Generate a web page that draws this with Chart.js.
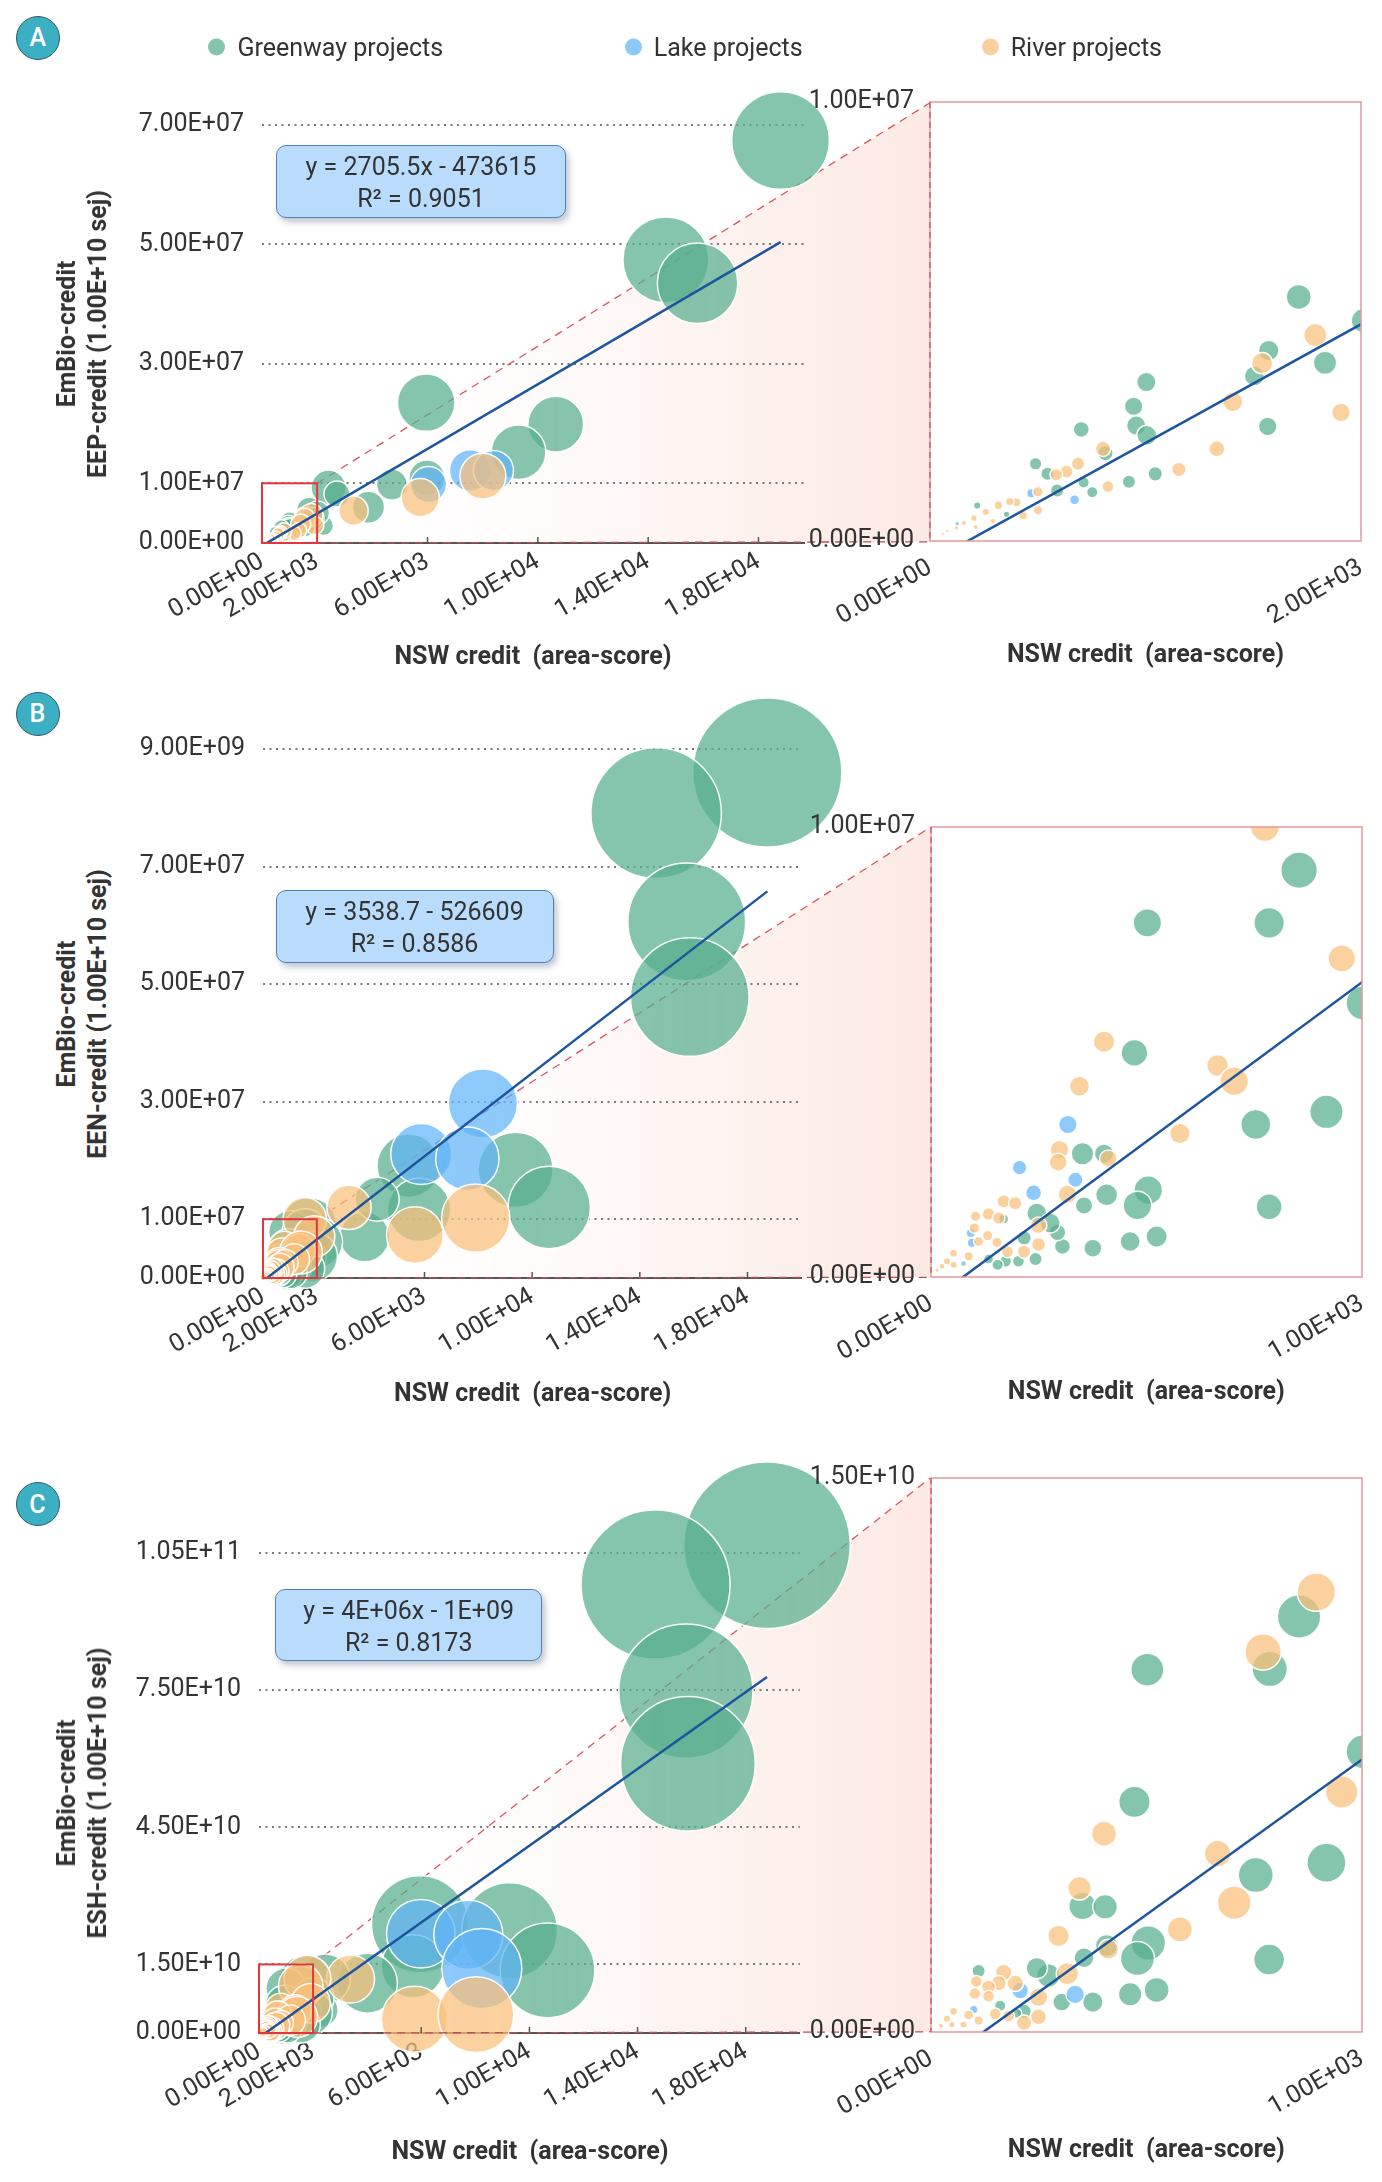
<!DOCTYPE html>
<html>
<head>
<meta charset="utf-8">
<title>EmBio-credit vs NSW credit</title>
<script src="https://cdn.jsdelivr.net/npm/chart.js@4.4.1/dist/chart.umd.min.js"></script>
<style>
  html, body { margin: 0; padding: 0; background: #fff; }
  #page { position: relative; width: 1382px; height: 2182px; overflow: hidden;
          font-family: Roboto, "Noto Sans", sans-serif; color: #333; }
  canvas { position: absolute; }
  canvas.main { z-index: 1; }
  canvas.inset { z-index: 2; }
  .tag { position: absolute; width: 44px; height: 44px; border-radius: 50%; box-sizing: border-box;
         background: #3cafc3; border: 1.5px solid #2d5f6b; color: #fff; font-size: 25px; font-weight: 500;
         display: flex; align-items: center; justify-content: center; transform: translate(-50%, -50%); z-index: 3; }
  .legend { position: absolute; top: 46.7px; transform: translateY(-50%); font-size: 25px; white-space: nowrap;
            display: flex; align-items: center; z-index: 3; color: #333; }
  .legend i { display: inline-block; width: 17px; height: 17px; border-radius: 50%; margin-right: 12px; }
  .eq { position: absolute; z-index: 3; box-sizing: border-box; background: #b9dcfc; border: 1.5px solid #4f7fbd;
        border-radius: 10px; box-shadow: 3px 4px 6px rgba(40, 60, 90, 0.3); font-size: 25px; line-height: 32px;
        text-align: center; padding-top: 5px; color: #333; }
  .ytitle { position: absolute; z-index: 3; font-weight: bold; font-size: 25px; line-height: 31px; text-align: center;
            white-space: nowrap; transform: translate(-50%, -50%) rotate(-90deg); color: #333; }
  .xtitle { position: absolute; z-index: 3; font-weight: bold; font-size: 25px; white-space: pre;
            transform: translate(-50%, -50%); color: #333; }
</style>
</head>
<body>
<div id="page"></div>
<script>
// ---- data ----
const seriesNames = ["Greenway projects", "Lake projects", "River projects"];

// each point: [NSW credit, EmBio-credit, bubble size]
// Panel A (EEP-credit)
const greenA = [
  [18800, 67.4e6, 67.7], [14645, 47.4e6, 52.6], [15790, 43.5e6, 46.0], [5953, 23.5e6, 23.4],
  [10650, 19.9e6, 22.0], [9300, 15.2e6, 21.2], [5978, 10.9e6, 9.2], [4710, 9.8e6, 6.8],
  [3862, 6.0e6, 7.3], [2413, 9.3e6, 8.7], [2717, 8.2e6, 4.8], [2232, 2.9e6, 2.8],
  [1711, 5.56e6, 4.44], [2010, 5.02e6, 4.1], [1572, 4.34e6, 3.0], [1505, 3.76e6, 2.84],
  [1833, 4.06e6, 3.83], [1567, 2.61e6, 2.46], [1045, 1.53e6, 1.52], [923, 1.35e6, 1.28],
  [1004, 3.62e6, 2.68], [945, 3.07e6, 2.46], [957, 2.63e6, 2.68], [1006, 2.41e6, 2.84],
  [814, 2.0e6, 1.69], [702, 2.54e6, 1.82], [545, 1.53e6, 1.28], [490, 1.76e6, 1.13],
  [713, 1.33e6, 0.92], [753, 1.11e6, 0.92], [590, 1.15e6, 1.28], [219, 0.81e6, 0.39],
  [355, 0.61e6, 0.31]
];
const lakeA = [
  [7546, 12.15e6, 12.2], [8391, 12.15e6, 11.4], [6036, 9.8e6, 9.2],
  [671, 0.94e6, 0.71], [470, 1.09e6, 0.63], [126, 0.39e6, 0.18]
];
const riverA = [
  [8007, 11.2e6, 15.0], [5736, 7.6e6, 10.3], [3319, 5.4e6, 6.1], [1788, 4.69e6, 3.83],
  [1541, 4.05e6, 3.2], [1907, 2.93e6, 2.46], [1405, 3.17e6, 2.84], [1331, 2.10e6, 1.82],
  [1155, 1.63e6, 1.52], [826, 1.24e6, 1.02], [803, 2.10e6, 1.69], [687, 1.76e6, 1.28],
  [633, 1.58e6, 1.28], [586, 1.51e6, 1.13], [501, 1.12e6, 0.8], [501, 0.70e6, 0.63],
  [432, 0.58e6, 0.53], [401, 0.88e6, 0.63], [370, 0.90e6, 0.53], [317, 0.81e6, 0.53],
  [259, 0.66e6, 0.39], [203, 0.52e6, 0.31], [293, 0.45e6, 0.26], [212, 0.32e6, 0.21],
  [157, 0.41e6, 0.21], [123, 0.30e6, 0.15], [80, 0.23e6, 0.11], [62, 0.16e6, 0.08]
];

// Panel B (EEN-credit)
const greenB = [
  [18737, 86.0e6, 98.7], [14607, 79.1e6, 75.6], [15744, 60.6e6, 61.7], [15856, 47.8e6, 62.5],
  [5411, 19.1e6, 17.8], [9385, 18.4e6, 25.0], [10633, 12.0e6, 30.2], [5800, 11.6e6, 17.8],
  [3774, 7.0e6, 11.1], [4241, 13.4e6, 8.6],
  [1708, 9.04e6, 13.4], [1004, 7.87e6, 8.07], [1569, 7.87e6, 9.36], [2005, 6.09e6, 11.6],
  [944, 4.98e6, 7.08], [1507, 3.39e6, 9.0], [1835, 3.67e6, 11.2], [703, 2.74e6, 5.1],
  [803, 2.74e6, 3.76], [815, 1.83e6, 4.84], [710, 1.59e6, 3.03], [1008, 1.93e6, 8.18],
  [958, 1.59e6, 8.18], [1569, 1.56e6, 6.76], [924, 0.79e6, 4.0], [1047, 0.90e6, 4.58],
  [751, 0.64e6, 3.24], [610, 0.68e6, 2.56], [587, 0.99e6, 2.76], [491, 1.42e6, 4.0],
  [553, 1.20e6, 4.0], [432, 0.87e6, 2.13], [485, 0.40e6, 1.8], [406, 0.35e6, 1.44],
  [346, 0.35e6, 1.44], [309, 0.27e6, 1.3], [337, 1.29e6, 1.0], [267, 0.40e6, 1.0]
];
const lakeB = [
  [8170, 29.7e6, 21.2], [5878, 21.1e6, 16.5], [7593, 20.3e6, 17.8], [635, 3.39e6, 3.46],
  [411, 2.43e6, 2.13], [670, 2.16e6, 2.37], [476, 1.87e6, 2.56], [185, 0.98e6, 0.88],
  [190, 0.76e6, 0.88], [151, 0.30e6, 0.36]
];
const riverB = [
  [7904, 10.2e6, 20.7], [5644, 7.3e6, 14.3], [3196, 12.0e6, 8.7], [1550, 10.0e6, 8.4],
  [1906, 7.08e6, 7.5], [803, 5.23e6, 4.58], [689, 4.24e6, 4.0], [1330, 4.70e6, 4.84],
  [1407, 4.35e6, 8.18], [1155, 3.19e6, 4.24], [596, 2.83e6, 3.46], [590, 2.55e6, 3.24],
  [823, 2.63e6, 3.03], [633, 1.84e6, 3.46], [499, 1.15e6, 2.76], [499, 0.72e6, 1.96],
  [432, 0.56e6, 1.8], [355, 0.56e6, 1.44], [337, 1.68e6, 1.8], [391, 1.64e6, 1.8],
  [267, 1.40e6, 1.59], [314, 1.31e6, 1.59], [207, 1.35e6, 1.12], [201, 1.09e6, 1.12],
  [263, 0.92e6, 1.12], [306, 0.77e6, 1.12], [221, 0.79e6, 1.0], [175, 0.46e6, 0.88],
  [105, 0.53e6, 0.64], [74, 0.35e6, 0.55], [105, 0.27e6, 0.55], [51, 0.24e6, 0.36],
  [28, 0.15e6, 0.21]
];

// Panel C (ESH-credit)
const greenC = [
  [18787, 106.7e9, 186.5], [14665, 98.1e9, 149.2], [15786, 74.8e9, 121], [15863, 58.9e9, 121.7],
  [5952, 23.8e9, 63], [9268, 22.4e9, 61.4], [10669, 13.7e9, 60.1], [5690, 14.6e9, 26.8],
  [4008, 10.9e9, 24.2], [2451, 11.8e9, 16.8], [2296, 5.0e9, 7.8],
  [1708, 11.25e9, 18.8], [1572, 9.83e9, 12.5], [1004, 9.81e9, 10.9], [2005, 7.59e9, 11.6],
  [944, 6.23e9, 9.86], [1507, 4.25e9, 12.25], [1835, 4.58e9, 15.2], [703, 3.41e9, 7.5],
  [808, 3.39e9, 6.05], [1008, 2.41e9, 12.0], [958, 1.99e9, 11.6], [1569, 1.96e9, 9.6],
  [815, 2.34e9, 5.0], [710, 2.01e9, 4.0], [924, 1.02e9, 5.5], [1047, 1.14e9, 6.25],
  [751, 0.81e9, 4.24], [545, 1.53e9, 5.5], [491, 1.73e9, 4.58], [607, 0.81e9, 3.24],
  [432, 0.56e9, 2.13], [221, 1.65e9, 1.8], [321, 0.71e9, 1.3], [398, 0.51e9, 1.0]
];
const lakeC = [
  [5985, 21.7e9, 31.6], [7741, 21.5e9, 32], [8240, 14.1e9, 43],
  [669, 1.02e9, 3.46], [414, 1.12e9, 2.76], [198, 0.61e9, 0.74]
];
const riverC = [
  [5749, 3.0e9, 29.3], [8022, 4.0e9, 38.6], [3386, 11.8e9, 15.5], [1788, 11.91e9, 14.7],
  [1541, 10.29e9, 13.25], [1906, 6.50e9, 10.5], [803, 5.37e9, 6.25], [1330, 4.83e9, 7.08],
  [1407, 3.50e9, 11.3], [689, 3.89e9, 5.5], [1155, 2.78e9, 6.25], [592, 2.60e9, 4.67],
  [823, 2.24e9, 4.0], [633, 1.58e9, 5.0], [499, 0.94e9, 3.46], [499, 0.41e9, 2.56],
  [432, 0.25e9, 2.37], [391, 1.32e9, 2.76], [337, 1.61e9, 2.76], [314, 1.32e9, 2.37],
  [267, 1.22e9, 1.96], [210, 1.37e9, 1.44], [204, 1.04e9, 1.44], [267, 0.97e9, 1.44],
  [298, 0.49e9, 1.44], [360, 0.43e9, 1.44], [175, 0.46e9, 1.0], [221, 0.31e9, 0.88],
  [105, 0.56e9, 0.64], [74, 0.36e9, 0.55], [97, 0.20e9, 0.44], [46, 0.17e9, 0.29],
  [151, 0.20e9, 0.55]
];

// trend lines [slope, intercept] and their labels
const fitA = [2705.5, -473615];
const fitB = [3538.7, -526609];
const fitC = [4.2e6, -1.02e9];
const eqA = ["y = 2705.5x - 473615", "R² = 0.9051"];
const eqB = ["y = 3538.7 - 526609", "R² = 0.8586"];
const eqC = ["y = 4E+06x - 1E+09", "R² = 0.8173"];

// tick values and labels (as printed in the figure)
const xTicksMain = [0, 2000, 6000, 10000, 14000, 18000];
const xLabelsMain = ["0.00E+00", "2.00E+03", "6.00E+03", "1.00E+04", "1.40E+04", "1.80E+04"];
const yTicksA = [0, 1e7, 3e7, 5e7, 7e7];
const yLabelsA = ["0.00E+00", "1.00E+07", "3.00E+07", "5.00E+07", "7.00E+07"];
const yTicksB = [0, 1e7, 3e7, 5e7, 7e7, 9e7];
const yLabelsB = ["0.00E+00", "1.00E+07", "3.00E+07", "5.00E+07", "7.00E+07", "9.00E+09"];
const yTicksC = [0, 1.5e10, 4.5e10, 7.5e10, 1.05e11];
const yLabelsC = ["0.00E+00", "1.50E+10", "4.50E+10", "7.50E+10", "1.05E+11"];
const xTicksInset = [0, 2000];
const xLabelsInsetA = ["0.00E+00", "2.00E+03"];
const xLabelsInsetBC = ["0.00E+00", "1.00E+03"];
const yTicksInsetAB = [0, 1e7];
const yLabelsInsetAB = ["0.00E+00", "1.00E+07"];
const yTicksInsetC = [0, 1.5e10];
const yLabelsInsetC = ["0.00E+00", "1.50E+10"];

// ---- styling / layout ----
const fills = ["rgba(88, 174, 141, 0.72)", "rgba(97, 180, 248, 0.72)", "rgba(250, 191, 122, 0.72)"];
const legendDots = ["#85c4ac", "#8cc8fa", "#fbd09e"];
const tickFont = { family: "Roboto", size: 25 };

const panels = [
  { tag: "A", series: [greenA, lakeA, riverA], fit: fitA, eq: eqA, yTitle: "EEP-credit (1.00E+10 sej)",
    yTicks: yTicksA, yLabels: yLabelsA, insetXLabels: xLabelsInsetA, insetYTicks: yTicksInsetAB, insetYLabels: yLabelsInsetAB,
    xMax: 19650, kMain: 5.93, kInset: 5.93,
    main: { l: 262, r: 804, t: 124.5, b: 542.7 }, inset: { l: 930, r: 1361, t: 102.3, b: 541.6 },
    tagPos: [37.7, 37.7], eqBox: [276, 145, 290, 73], xTitleY: 655 },
  { tag: "B", series: [greenB, lakeB, riverB], fit: fitB, eq: eqB, yTitle: "EEN-credit (1.00E+10 sej)",
    yTicks: yTicksB, yLabels: yLabelsB, insetXLabels: xLabelsInsetBC, insetYTicks: yTicksInsetAB, insetYLabels: yLabelsInsetAB,
    xMax: 20000, kMain: 7.5, kInset: 5,
    main: { l: 263.3, r: 802, t: 749, b: 1278 }, inset: { l: 930.7, r: 1362, t: 827.3, b: 1277.3 },
    tagPos: [37.5, 713.6], eqBox: [275.5, 890.3, 278, 72.4], xTitleY: 1392 },
  { tag: "C", series: [greenC, lakeC, riverC], fit: fitC, eq: eqC, yTitle: "ESH-credit (1.00E+10 sej)",
    yTicks: yTicksC, yLabels: yLabelsC, insetXLabels: xLabelsInsetBC, insetYTicks: yTicksInsetC, insetYLabels: yLabelsInsetC,
    xMax: 20000, kMain: 6.1, kInset: 5,
    main: { l: 259.4, r: 800.5, t: 1552.8, b: 2032.6 }, inset: { l: 930.7, r: 1362, t: 1477.7, b: 2031.9 },
    tagPos: [37.5, 1504], eqBox: [275.2, 1589.4, 267, 72], xTitleY: 2150 }
];

const page = document.getElementById("page");

function addDiv(cls, html, style) {
  const d = document.createElement("div");
  d.className = cls;
  d.innerHTML = html;
  Object.assign(d.style, style);
  page.appendChild(d);
  return d;
}

function makeCanvas(cls, left, top, w, h) {
  const c = document.createElement("canvas");
  c.className = cls;
  c.style.left = left + "px";
  c.style.top = top + "px";
  c.style.width = Math.round(w) + "px";
  c.style.height = Math.round(h) + "px";
  c.width = Math.round(w);
  c.height = Math.round(h);
  page.appendChild(c);
  return c;
}

function toBubbles(arr, k) {
  return arr.map(p => ({ x: p[0], y: p[1], r: k * Math.sqrt(p[2]) }));
}

function trendPoints(series, fit) {
  let lo = Infinity, hi = -Infinity;
  series.forEach(a => a.forEach(p => { lo = Math.min(lo, p[0]); hi = Math.max(hi, p[0]); }));
  return [{ x: lo, y: fit[0] * lo + fit[1] }, { x: hi, y: fit[0] * hi + fit[1] }];
}

function buildDatasets(p, k, clip) {
  const sets = [{
    type: "line", data: trendPoints(p.series, p.fit), borderColor: "#1d559f", borderWidth: 2.5,
    pointRadius: 0, fill: false, order: 0, clip: clip === false ? undefined : clip
  }];
  p.series.forEach((arr, i) => {
    sets.push({
      label: seriesNames[i], data: toBubbles(arr, k), backgroundColor: fills[i],
      borderColor: "rgba(255, 255, 255, 0.95)", borderWidth: 1.5, order: 3 - i, clip: clip
    });
  });
  return sets;
}

function fixedTicks(values) {
  return scale => { scale.ticks = values.map(v => ({ value: v })); };
}

function labelFor(values, labels) {
  return v => labels[values.indexOf(v)];
}

// pin the axis boxes so the plot areas land where the figure has them
function fitX(h) {
  return s => { s.height = h; s.paddingLeft = 0; s.paddingRight = 0; };
}
function fitY(w) {
  return s => { s.width = w; s.paddingTop = 0; s.paddingBottom = 0; };
}

// legend
seriesNames.forEach((name, i) => {
  const left = [208.4, 624.7, 981.7][i];
  addDiv("legend", '<i style="background:' + legendDots[i] + '"></i>' + name, { left: left + "px" });
});

panels.forEach(p => {
  // --- inset (zoomed view of the red frame) ---
  const iyW = 120, ixH = 120, iPadT = 20, iPadR = 18;
  const iLeft = p.inset.l - iyW, iTop = p.inset.t - iPadT;
  const iCanvas = makeCanvas("inset", iLeft, iTop, iyW + (p.inset.r - p.inset.l) + iPadR, iPadT + (p.inset.b - p.inset.t) + ixH);
  const inset = new Chart(iCanvas, {
    type: "bubble",
    data: { datasets: buildDatasets(p, p.kInset, 0) },
    options: {
      responsive: false, animation: false, events: [],
      layout: { autoPadding: false, padding: { left: 0, top: iPadT, right: iPadR, bottom: 0 } },
      plugins: { legend: { display: false }, tooltip: { enabled: false } },
      scales: {
        x: {
          type: "linear", min: 0, max: 2000,
          afterBuildTicks: fixedTicks(xTicksInset),
          afterFit: fitX(ixH),
          grid: { display: false }, border: { display: false },
          ticks: { autoSkip: false, minRotation: 30, maxRotation: 30, padding: 4, color: "#333", font: tickFont,
                   callback: labelFor(xTicksInset, p.insetXLabels) }
        },
        y: {
          type: "linear", min: 0, max: p.insetYTicks[1],
          afterBuildTicks: fixedTicks(p.insetYTicks),
          afterFit: fitY(iyW),
          grid: { display: false }, border: { display: false },
          ticks: { padding: 8, color: "#333", font: tickFont, callback: labelFor(p.insetYTicks, p.insetYLabels) }
        }
      }
    },
    plugins: [{
      id: "insetFrame",
      afterDraw(chart) {
        const { ctx, chartArea: a } = chart;
        ctx.save();
        ctx.strokeStyle = "#e39a9a";
        ctx.lineWidth = 1.5;
        ctx.strokeRect(a.left, a.top, a.right - a.left, a.bottom - a.top);
        ctx.setLineDash([6, 4]);
        ctx.strokeStyle = "#c9505e";
        ctx.lineWidth = 1.2;
        ctx.beginPath();
        ctx.moveTo(a.left, a.top);
        ctx.lineTo(a.left, a.bottom);
        ctx.stroke();
        ctx.restore();
      }
    }]
  });
  const ia = inset.chartArea;
  const insetTopLeft = { x: iLeft + ia.left, y: iTop + ia.top };
  const insetBottomLeft = { x: iLeft + ia.left, y: iTop + ia.bottom };

  // --- main chart ---
  const yW = 150, xH = 120, padT = 110;
  const mLeft = p.main.l - yW, mTop = p.main.t - padT;
  const padR = insetTopLeft.x - p.main.r;
  const frameX = xTicksInset[1], frameY = p.insetYTicks[1];
  const mCanvas = makeCanvas("main", mLeft, mTop, yW + (p.main.r - p.main.l) + padR, padT + (p.main.b - p.main.t) + xH);
  new Chart(mCanvas, {
    type: "bubble",
    data: { datasets: buildDatasets(p, p.kMain, false) },
    options: {
      responsive: false, animation: false, events: [],
      layout: { autoPadding: false, padding: { left: 0, top: padT, right: padR, bottom: 0 } },
      plugins: { legend: { display: false }, tooltip: { enabled: false } },
      scales: {
        x: {
          type: "linear", min: 0, max: p.xMax,
          afterBuildTicks: fixedTicks(xTicksMain),
          afterFit: fitX(xH),
          grid: { drawOnChartArea: false, drawTicks: false },
          border: { display: true, color: "#555", width: 2 },
          ticks: { autoSkip: false, minRotation: 30, maxRotation: 30, padding: 4, color: "#333", font: tickFont,
                   callback: labelFor(xTicksMain, xLabelsMain) }
        },
        y: {
          type: "linear", min: 0, max: p.yTicks[p.yTicks.length - 1],
          afterBuildTicks: fixedTicks(p.yTicks),
          afterFit: fitY(yW),
          grid: { drawTicks: false, lineWidth: 2,
                  color: ctx => (ctx.tick && ctx.tick.value === 0) ? "rgba(0,0,0,0)" : "#7a7a7a" },
          border: { display: false, dash: [2, 4.5] },
          ticks: { padding: 18, color: "#333", font: tickFont, callback: labelFor(p.yTicks, p.yLabels) }
        }
      }
    },
    plugins: [{
      id: "zoomLink",
      beforeDraw(chart) {
        // pink wedge running from the red frame to the inset
        const { ctx, scales: { x, y } } = chart;
        const fx = x.getPixelForValue(frameX), fy = y.getPixelForValue(frameY), y0 = y.getPixelForValue(0);
        const tx = insetTopLeft.x - mLeft, ty = insetTopLeft.y - mTop, by = insetBottomLeft.y - mTop;
        const g = ctx.createLinearGradient(fx, 0, tx, 0);
        g.addColorStop(0, "rgba(248, 200, 186, 0)");
        g.addColorStop(0.3, "rgba(248, 200, 186, 0.04)");
        g.addColorStop(1, "rgba(248, 200, 186, 0.4)");
        ctx.save();
        ctx.fillStyle = g;
        ctx.beginPath();
        ctx.moveTo(fx, fy);
        ctx.lineTo(tx, ty);
        ctx.lineTo(tx, by);
        ctx.lineTo(fx, y0);
        ctx.closePath();
        ctx.fill();
        ctx.restore();
      },
      beforeDatasetsDraw(chart) {
        const { ctx, scales: { x, y } } = chart;
        const fx = x.getPixelForValue(frameX), fy = y.getPixelForValue(frameY);
        ctx.save();
        ctx.setLineDash([8, 6]);
        ctx.strokeStyle = "#d9545f";
        ctx.lineWidth = 1.3;
        ctx.beginPath();
        ctx.moveTo(fx, fy);
        ctx.lineTo(insetTopLeft.x - mLeft, insetTopLeft.y - mTop);
        ctx.stroke();
        ctx.restore();
      },
      afterDatasetsDraw(chart) {
        const { ctx, scales: { x, y } } = chart;
        const x0 = x.getPixelForValue(0), fx = x.getPixelForValue(frameX);
        const y0 = y.getPixelForValue(0), fy = y.getPixelForValue(frameY);
        ctx.save();
        // inward tick marks
        ctx.strokeStyle = "#555";
        ctx.lineWidth = 1.5;
        xTicksMain.slice(1).forEach(v => {
          const px = x.getPixelForValue(v);
          ctx.beginPath();
          ctx.moveTo(px, y0);
          ctx.lineTo(px, y0 - 6);
          ctx.stroke();
        });
        // bottom dashed link
        ctx.setLineDash([8, 6]);
        ctx.strokeStyle = "#b9505a";
        ctx.lineWidth = 1.3;
        ctx.beginPath();
        ctx.moveTo(fx, y0);
        ctx.lineTo(insetBottomLeft.x - mLeft, insetBottomLeft.y - mTop);
        ctx.stroke();
        // red frame
        ctx.setLineDash([]);
        ctx.strokeStyle = "#e2363c";
        ctx.lineWidth = 2;
        ctx.strokeRect(x0, fy, fx - x0, y0 - fy);
        ctx.restore();
      }
    }]
  });

  // --- text pieces ---
  addDiv("tag", p.tag, { left: p.tagPos[0] + "px", top: p.tagPos[1] + "px" });
  addDiv("eq", p.eq[0] + "<br>" + p.eq[1], {
    left: p.eqBox[0] + "px", top: p.eqBox[1] + "px", width: p.eqBox[2] + "px", height: p.eqBox[3] + "px"
  });
  addDiv("ytitle", "EmBio-credit<br>" + p.yTitle, { left: "81.8px", top: ((p.main.t + p.main.b) / 2) + "px" });
  addDiv("xtitle", "NSW credit  (area-score)", { left: ((p.main.l + p.main.r) / 2) + "px", top: p.xTitleY + "px" });
  addDiv("xtitle", "NSW credit  (area-score)", { left: ((p.inset.l + p.inset.r) / 2) + "px", top: (p.xTitleY - 2) + "px" });
});
</script>
</body>
</html>
